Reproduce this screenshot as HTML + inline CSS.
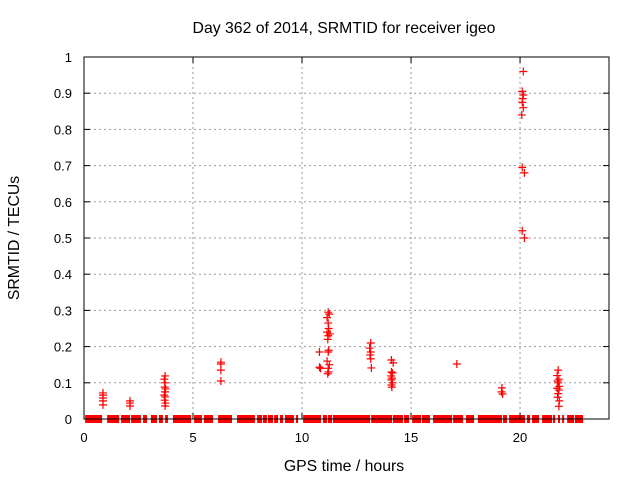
<!DOCTYPE html>
<html><head><meta charset="utf-8"><style>
body{margin:0;background:#fff;font-family:"Liberation Sans",sans-serif}
svg text{font-family:"Liberation Sans",sans-serif;font-size:13px;fill:#000}
svg text.big{font-size:15.8px}
</style></head><body>
<svg width="640" height="480" xmlns="http://www.w3.org/2000/svg">
<rect width="640" height="480" fill="#fff"/>
<text class="big" x="344" y="33" text-anchor="middle">Day 362 of 2014, SRMTID for receiver igeo</text>
<text class="big" x="344" y="471" text-anchor="middle">GPS time / hours</text>
<text class="big" transform="translate(19,238) rotate(-90)" text-anchor="middle">SRMTID / TECUs</text>
<g id="grid"></g><g id="marks"></g><g id="axes"></g>
</svg>
<script>
const xTicks=[0,5,10,15,20];
const yTicks=[0,0.1,0.2,0.3,0.4,0.5,0.6,0.7,0.8,0.9,1];
const yTickLabels=["0","0.1","0.2","0.3","0.4","0.5","0.6","0.7","0.8","0.9","1"];
const zeroStart=[0.05,1.06,1.70,2.16,2.71,3.07,3.44,3.72,4.08,5.05,5.50,6.15,7.02,7.94,8.21,8.44,8.72,8.99,9.22,9.72,10.05,10.96,11.19,11.42,13.17,14.17,14.68,15.05,15.50,16.01,16.93,17.52,18.07,19.22,19.50,20.32,20.55,21.01,21.51,21.74,21.93,22.16,22.52];
const zeroEnd=[0.83,1.61,2.11,2.61,2.89,3.35,3.62,3.85,4.91,5.41,5.92,6.79,7.84,8.17,8.39,8.67,8.90,9.13,9.63,9.82,10.87,11.15,11.38,13.12,14.13,14.63,14.91,15.46,15.87,16.88,17.39,17.89,19.17,19.40,20.23,20.46,20.87,21.47,21.61,21.79,21.97,22.48,22.89];
const ptTime=[0.87,0.87,0.87,0.87,0.87,2.11,2.11,2.11,
3.72,3.68,3.72,3.7,3.74,3.72,3.68,3.72,3.7,3.74,3.72,
6.28,6.28,6.28,6.28,
10.8,10.8,10.85,
11.2,11.25,11.15,11.2,11.22,11.15,11.28,11.2,11.18,11.22,11.2,11.15,11.25,11.2,11.22,11.18,
13.15,13.1,13.15,13.12,13.15,13.18,
14.1,14.18,14.1,14.15,14.08,14.12,14.1,14.15,14.1,14.12,
17.1,19.17,19.15,19.2,
20.15,20.1,20.15,20.12,20.1,20.15,20.08,20.1,20.2,20.1,20.2,
21.75,21.7,21.78,21.72,21.75,21.8,21.7,21.78,21.75,21.72,21.8,21.78];
const ptValue=[0.072,0.066,0.058,0.05,0.039,0.05,0.044,0.036,
0.119,0.11,0.1,0.088,0.083,0.075,0.066,0.061,0.052,0.044,0.036,
0.157,0.152,0.135,0.105,
0.185,0.143,0.14,
0.295,0.29,0.28,0.265,0.25,0.24,0.235,0.23,0.22,0.19,0.185,0.16,0.15,0.14,0.13,0.125,
0.21,0.196,0.185,0.177,0.166,0.141,
0.163,0.155,0.13,0.127,0.119,0.113,0.108,0.1,0.094,0.088,
0.152,0.086,0.075,0.069,
0.96,0.905,0.895,0.885,0.875,0.86,0.84,0.695,0.68,0.52,0.5,
0.135,0.12,0.11,0.105,0.1,0.09,0.085,0.08,0.07,0.06,0.05,0.035];
const L=84,R=609,T=57,B=419,XMAX=24.08;
const X=v=>L+v/XMAX*(R-L), Y=v=>B-v*(B-T);
const NS="http://www.w3.org/2000/svg";
function mk(tag,attrs,parent){const e=document.createElementNS(NS,tag);for(const k in attrs)e.setAttribute(k,attrs[k]);document.getElementById(parent).appendChild(e);return e;}
xTicks.forEach(t=>{
 if(t>0){const g=mk('line',{x1:X(t),x2:X(t),y1:T,y2:B,stroke:'#999','stroke-dasharray':'2,3'},'grid');
 
 }
 const a=mk('line',{x1:X(t),x2:X(t),y1:B,y2:B-6,stroke:'#000'},'axes');
 
 
 const b=mk('line',{x1:X(t),x2:X(t),y1:T,y2:T+6,stroke:'#000'},'axes');
 
 
 const tx=mk('text',{x:X(t),y:B+23,'text-anchor':'middle'},'axes');tx.textContent=String(t);
 
 
});
yTicks.forEach((t,i)=>{
 if(t>0&&t<1){const g=mk('line',{x1:L,x2:R,y1:Y(t),y2:Y(t),stroke:'#999','stroke-dasharray':'2,3'},'grid');
 
 }
 const a=mk('line',{x1:L,x2:L+6,y1:Y(t),y2:Y(t),stroke:'#000'},'axes');
 
 
 const b=mk('line',{x1:R,x2:R-6,y1:Y(t),y2:Y(t),stroke:'#000'},'axes');
 
 
 const tx=mk('text',{x:L-12,y:Y(t)+5,'text-anchor':'end'},'axes');tx.textContent=yTickLabels[i];
 
 
});
const fr=mk('rect',{x:L,y:T,width:R-L,height:B-T,fill:'none',stroke:'#000'},'axes');


zeroStart.forEach((s,i)=>{
 const r=mk('rect',{x:X(s),y:B-4,width:Math.max(2,X(zeroEnd[i])-X(s)),height:8,fill:'#f00'},'marks');
 
 
});
ptTime.forEach((t,i)=>{
 const x=X(t),y=Y(ptValue[i]);
 const p=mk('path',{d:`M${x-4},${y}H${x+4}M${x},${y-4}V${y+4}`,stroke:'#f00','stroke-width':1.2,fill:'none'},'marks');
 
 
});
</script>
</body></html>
